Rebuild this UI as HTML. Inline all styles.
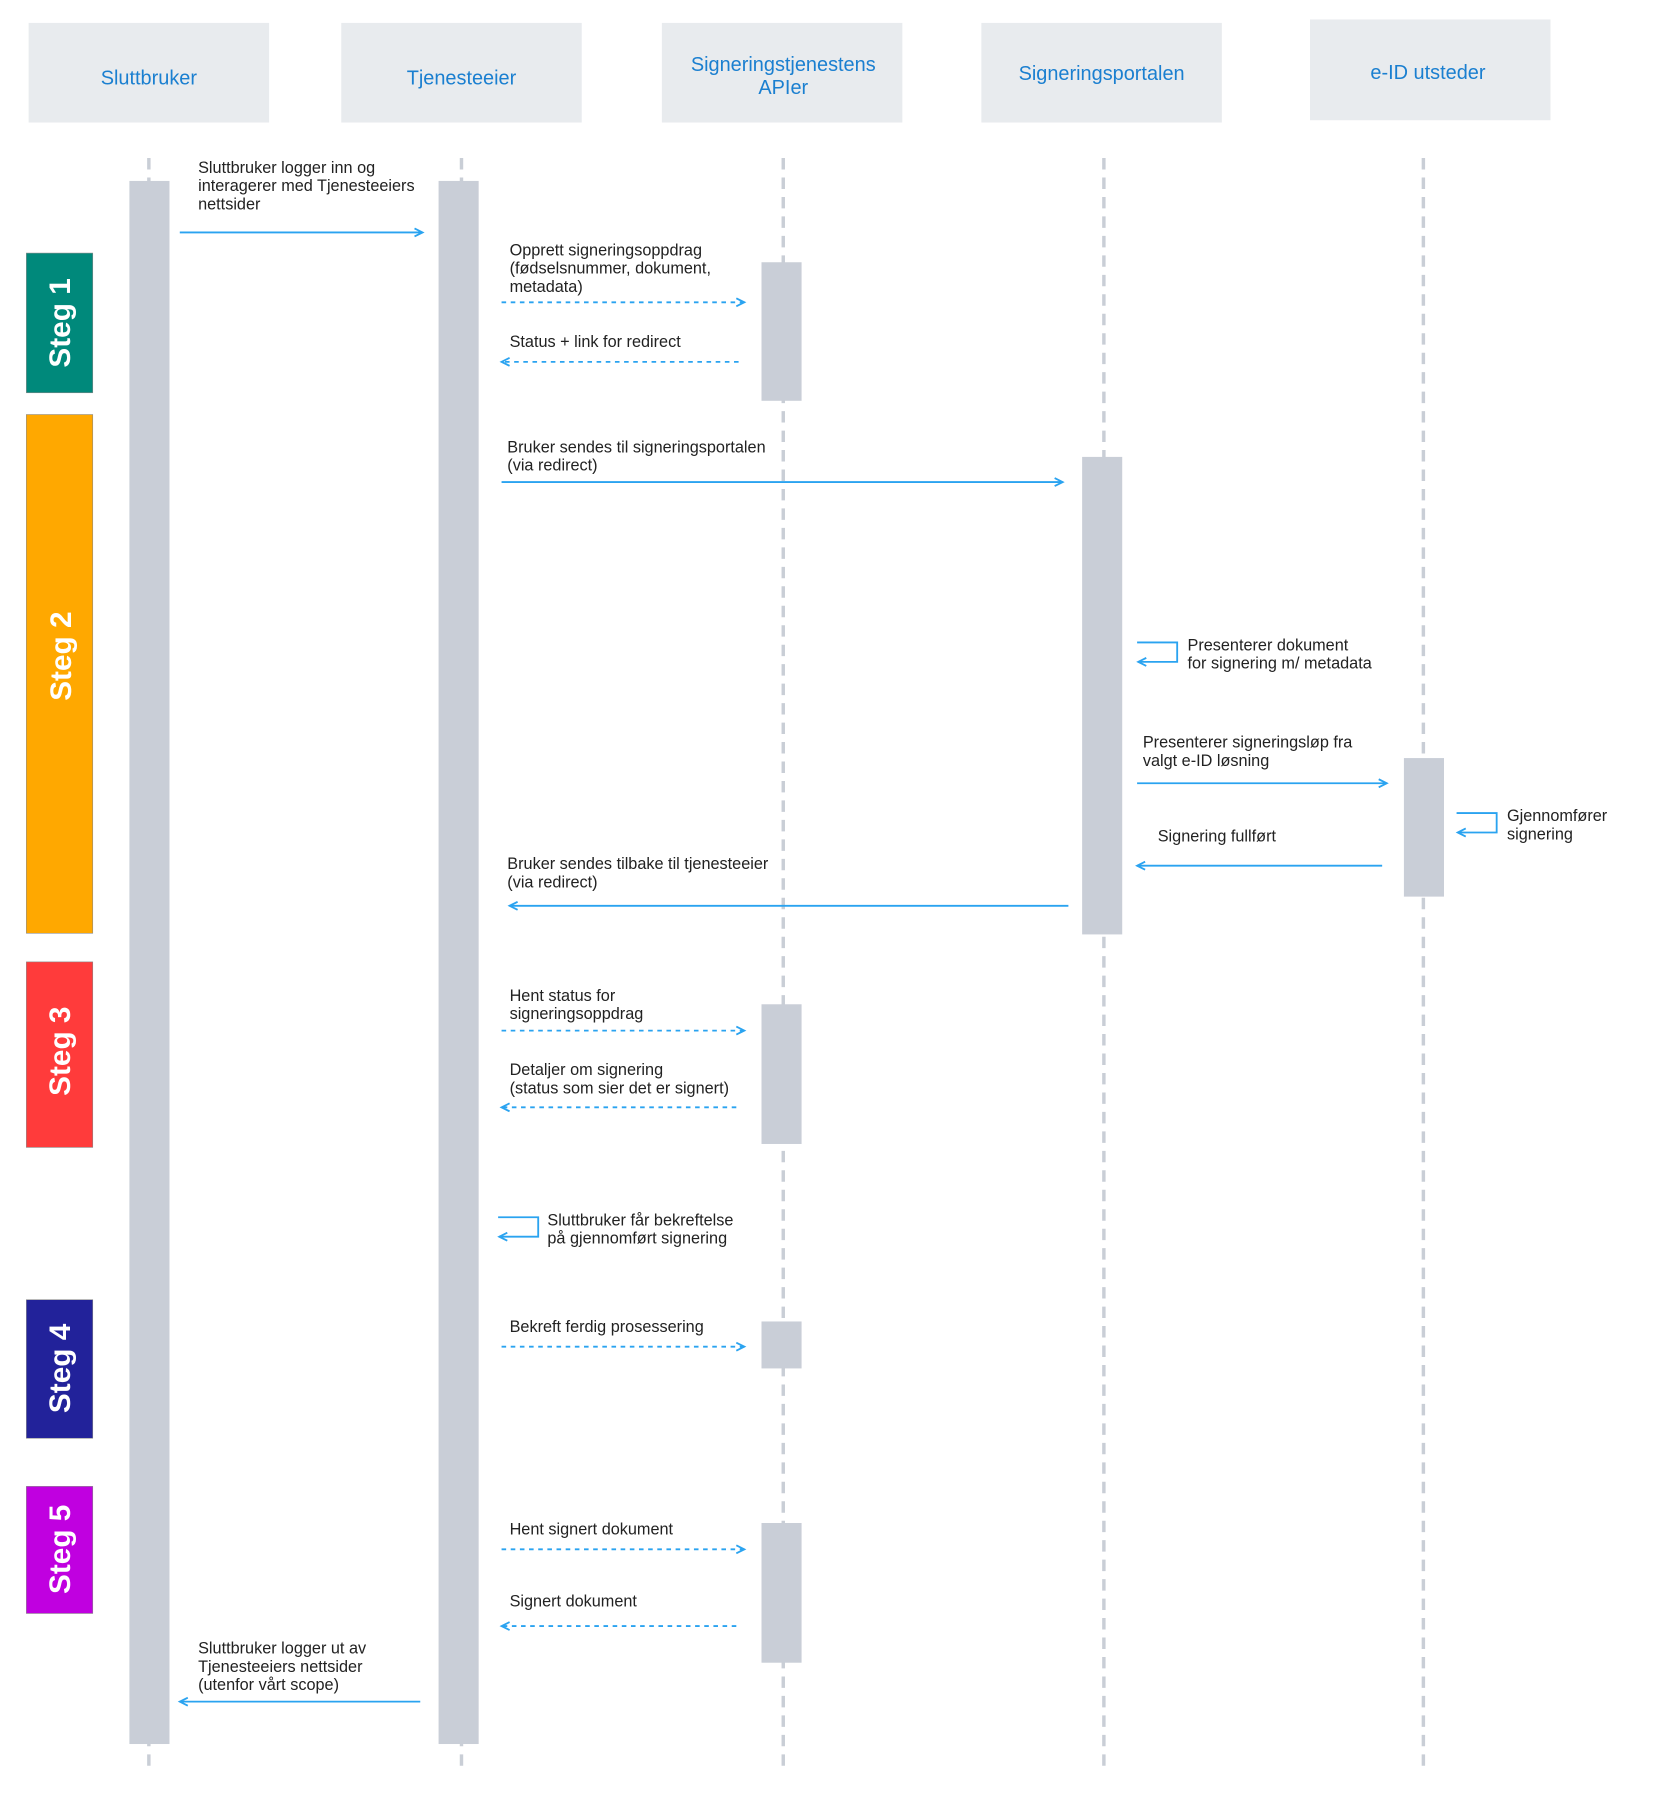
<!DOCTYPE html>
<html><head><meta charset="utf-8"><style>
html,body{margin:0;padding:0;background:#fff;}
svg{display:block;}
text{font-family:"Liberation Sans",sans-serif;}
.l{font-size:14.2px;fill:#222;}
.h{font-size:17.4px;fill:#1a7fd0;text-anchor:middle;}
.s{font-size:26px;fill:#fff;font-weight:bold;text-anchor:middle;}
.ll{stroke:#c9ced6;stroke-width:3;stroke-dasharray:10 7;}
.b{fill:#c9ced7;}
.a{stroke:#2aa3f0;stroke-width:1.6;fill:none;}
.d{stroke:#2aa3f0;stroke-width:1.6;fill:none;stroke-dasharray:4 4;}
</style></head><body>
<svg width="1665" height="1796" viewBox="0 0 1454 1568.4" xmlns="http://www.w3.org/2000/svg">
<defs>
<marker id="m" markerWidth="10" markerHeight="10" refX="8" refY="5" orient="auto" markerUnits="userSpaceOnUse">
<path d="M1,1.5 L8,5 L1,8.5" fill="none" stroke="#2aa3f0" stroke-width="1.6"/>
</marker>
</defs>
<rect x="25" y="20" width="210" height="87" fill="#e8ebee"/>
<rect x="298" y="20" width="210" height="87" fill="#e8ebee"/>
<rect x="578" y="20" width="210" height="87" fill="#e8ebee"/>
<rect x="857" y="20" width="210" height="87" fill="#e8ebee"/>
<rect x="1144" y="17" width="210" height="88" fill="#e8ebee"/>
<text class="h" x="130" y="74">Sluttbruker</text>
<text class="h" x="403" y="74">Tjenesteeier</text>
<text class="h" x="684" y="62">Signeringstjenestens</text>
<text class="h" x="684" y="82">APIer</text>
<text class="h" x="962" y="70">Signeringsportalen</text>
<text class="h" x="1247" y="69">e-ID utsteder</text>
<line class="ll" x1="130" y1="138" x2="130" y2="1545"/>
<line class="ll" x1="403" y1="138" x2="403" y2="1545"/>
<line class="ll" x1="684" y1="138" x2="684" y2="1545"/>
<line class="ll" x1="964" y1="138" x2="964" y2="1545"/>
<line class="ll" x1="1243" y1="138" x2="1243" y2="1545"/>
<rect class="b" x="113" y="158" width="35" height="1365"/>
<rect class="b" x="383" y="158" width="35" height="1365"/>
<rect class="b" x="665" y="229" width="35" height="121"/>
<rect class="b" x="665" y="877" width="35" height="122"/>
<rect class="b" x="665" y="1154" width="35" height="41"/>
<rect class="b" x="665" y="1330" width="35" height="122"/>
<rect class="b" x="945" y="399" width="35" height="417"/>
<rect class="b" x="1226" y="662" width="35" height="121"/>
<rect x="23" y="221" width="58" height="122" fill="#00897b" stroke="#888" stroke-width="0.5"/>
<rect x="23" y="362" width="58" height="453" fill="#ffa800" stroke="#888" stroke-width="0.5"/>
<rect x="23" y="840" width="58" height="162" fill="#ff3b3b" stroke="#888" stroke-width="0.5"/>
<rect x="23" y="1135" width="58" height="121" fill="#22229a" stroke="#888" stroke-width="0.5"/>
<rect x="23" y="1298" width="58" height="111" fill="#c000e0" stroke="#888" stroke-width="0.5"/>
<text class="s" transform="translate(61,282) rotate(-90)">Steg 1</text>
<text class="s" transform="translate(62,573) rotate(-90)">Steg 2</text>
<text class="s" transform="translate(61,918) rotate(-90)">Steg 3</text>
<text class="s" transform="translate(61,1195) rotate(-90)">Steg 4</text>
<text class="s" transform="translate(61,1353) rotate(-90)">Steg 5</text>
<line class="a" x1="157" y1="203" x2="369" y2="203" marker-end="url(#m)"/>
<text class="l" x="173" y="151">Sluttbruker logger inn og</text>
<text class="l" x="173" y="167">interagerer med Tjenesteeiers</text>
<text class="l" x="173" y="183">nettsider</text>
<line class="d" x1="438" y1="264" x2="650" y2="264" marker-end="url(#m)"/>
<text class="l" x="445" y="223">Opprett signeringsoppdrag</text>
<text class="l" x="445" y="239">(fødselsnummer, dokument,</text>
<text class="l" x="445" y="255">metadata)</text>
<line class="d" x1="645" y1="316" x2="438" y2="316" marker-end="url(#m)"/>
<text class="l" x="445" y="303">Status + link for redirect</text>
<line class="a" x1="438" y1="421" x2="928" y2="421" marker-end="url(#m)"/>
<text class="l" x="443" y="395">Bruker sendes til signeringsportalen</text>
<text class="l" x="443" y="411">(via redirect)</text>
<polyline class="a" points="993,561 1028,561 1028,578 994,578" marker-end="url(#m)"/>
<text class="l" x="1037" y="568">Presenterer dokument</text>
<text class="l" x="1037" y="584">for signering m/ metadata</text>
<line class="a" x1="993" y1="684" x2="1211" y2="684" marker-end="url(#m)"/>
<text class="l" x="998" y="653">Presenterer signeringsløp fra</text>
<text class="l" x="998" y="669">valgt e-ID løsning</text>
<polyline class="a" points="1272,710 1307,710 1307,727 1273,727" marker-end="url(#m)"/>
<text class="l" x="1316" y="717">Gjennomfører</text>
<text class="l" x="1316" y="733">signering</text>
<line class="a" x1="1207" y1="756" x2="993" y2="756" marker-end="url(#m)"/>
<text class="l" x="1011" y="735">Signering fullført</text>
<line class="a" x1="933" y1="791" x2="445" y2="791" marker-end="url(#m)"/>
<text class="l" x="443" y="759">Bruker sendes tilbake til tjenesteeier</text>
<text class="l" x="443" y="775">(via redirect)</text>
<line class="d" x1="438" y1="900" x2="650" y2="900" marker-end="url(#m)"/>
<text class="l" x="445" y="874">Hent status for</text>
<text class="l" x="445" y="890">signeringsoppdrag</text>
<line class="d" x1="643" y1="967" x2="438" y2="967" marker-end="url(#m)"/>
<text class="l" x="445" y="939">Detaljer om signering</text>
<text class="l" x="445" y="955">(status som sier det er signert)</text>
<polyline class="a" points="435,1063 470,1063 470,1080 436,1080" marker-end="url(#m)"/>
<text class="l" x="478" y="1070">Sluttbruker får bekreftelse</text>
<text class="l" x="478" y="1086">på gjennomført signering</text>
<line class="d" x1="438" y1="1176" x2="650" y2="1176" marker-end="url(#m)"/>
<text class="l" x="445" y="1163">Bekreft ferdig prosessering</text>
<line class="d" x1="438" y1="1353" x2="650" y2="1353" marker-end="url(#m)"/>
<text class="l" x="445" y="1340">Hent signert dokument</text>
<line class="d" x1="643" y1="1420" x2="438" y2="1420" marker-end="url(#m)"/>
<text class="l" x="445" y="1403">Signert dokument</text>
<line class="a" x1="367" y1="1486" x2="157" y2="1486" marker-end="url(#m)"/>
<text class="l" x="173" y="1444">Sluttbruker logger ut av</text>
<text class="l" x="173" y="1460">Tjenesteeiers nettsider</text>
<text class="l" x="173" y="1476">(utenfor vårt scope)</text>
</svg>
</body></html>
